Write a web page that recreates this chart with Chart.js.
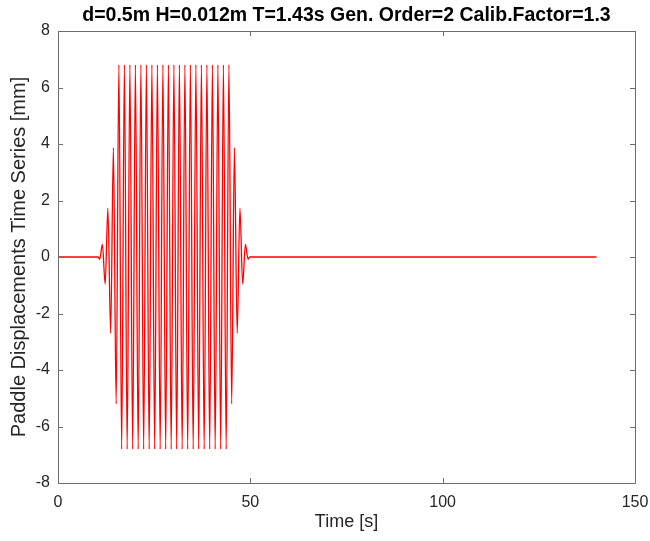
<!DOCTYPE html>
<html>
<head>
<meta charset="utf-8">
<script src="https://cdn.jsdelivr.net/npm/chart.js@4.4.0/dist/chart.umd.min.js"></script>
<style>
  html, body { margin: 0; padding: 0; background: #ffffff; }
  #wrap { width: 650px; height: 541px; }
</style>
</head>
<body>
<div id="wrap"><canvas id="c" width="650" height="541"></canvas></div>
<script>
// ---- Data ----
const chartTitle = 'd=0.5m H=0.012m T=1.43s Gen. Order=2 Calib.Factor=1.3';
const xTitle = 'Time [s]';
const yTitle = 'Paddle Displacements Time Series [mm]';

// time [s] of the plotted samples (flat start, wave extrema, flat end)
const timeS = [
  0, 10.40, 10.85,
  11.54, 12.26, 12.97, 13.69, 14.40, 15.12,
  15.83, 16.55, 17.26, 17.98, 18.69, 19.41, 20.12, 20.84, 21.55, 22.27,
  22.98, 23.70, 24.41, 25.13, 25.84, 26.56, 27.27, 27.99, 28.70, 29.42,
  30.13, 30.85, 31.56, 32.28, 32.99, 33.71, 34.42, 35.14, 35.85, 36.57,
  37.28, 38.00, 38.71, 39.43, 40.14, 40.86, 41.57, 42.29, 43.00, 43.72,
  44.43,
  45.15, 45.86, 46.58, 47.29, 48.01, 48.72,
  49.40, 49.85, 140
];
// paddle displacement [mm] at those times
const displacementMM = [
  0, 0, -0.08,
  0.45, -0.96, 1.73, -2.70, 3.87, -5.20,
  6.8, -6.8, 6.8, -6.8, 6.8, -6.8, 6.8, -6.8, 6.8, -6.8,
  6.8, -6.8, 6.8, -6.8, 6.8, -6.8, 6.8, -6.8, 6.8, -6.8,
  6.8, -6.8, 6.8, -6.8, 6.8, -6.8, 6.8, -6.8, 6.8, -6.8,
  6.8, -6.8, 6.8, -6.8, 6.8, -6.8, 6.8, -6.8, 6.8, -6.8,
  6.8,
  -5.20, 3.87, -2.70, 1.73, -0.96, 0.45,
  -0.08, 0, 0
];
const xTicks = [0, 50, 100, 150];
const yTicks = [-8, -6, -4, -2, 0, 2, 4, 6, 8];

const points = timeS.map((t, i) => ({ x: t, y: displacementMM[i] }));

const AXIS_COLOR = '#6e6e6e';
const TEXT_COLOR = '#262626';
const FONT = "'Liberation Sans', Arial, Helvetica, sans-serif";

// Box, inward ticks and centred title (MATLAB style)
const matlabFrame = {
  id: 'matlabFrame',
  afterDraw(chart) {
    const { ctx, chartArea: a, scales: { x, y } } = chart;
    ctx.save();
    ctx.strokeStyle = AXIS_COLOR;
    ctx.lineWidth = 1;
    ctx.beginPath();
    ctx.rect(Math.round(a.left) + 0.5, Math.round(a.top) + 0.5,
             Math.round(a.right - a.left), Math.round(a.bottom - a.top));
    ctx.stroke();
    const L = 5;
    ctx.beginPath();
    xTicks.forEach(v => {
      const px = Math.round(x.getPixelForValue(v)) + 0.5;
      ctx.moveTo(px, a.bottom); ctx.lineTo(px, a.bottom - L);
      ctx.moveTo(px, a.top); ctx.lineTo(px, a.top + L);
    });
    yTicks.forEach(v => {
      const py = Math.round(y.getPixelForValue(v)) + 0.5;
      ctx.moveTo(a.left, py); ctx.lineTo(a.left + L, py);
      ctx.moveTo(a.right, py); ctx.lineTo(a.right - L, py);
    });
    ctx.stroke();
    ctx.fillStyle = '#000000';
    ctx.font = "bold 19.5px " + FONT;
    ctx.textAlign = 'center';
    ctx.textBaseline = 'middle';
    ctx.fillText(chartTitle, (a.left + a.right) / 2, 16);
    ctx.restore();
  }
};

new Chart(document.getElementById('c'), {
  type: 'line',
  data: {
    datasets: [{
      data: points,
      borderColor: '#ff0000',
      borderWidth: 1.3,
      pointRadius: 0,
      fill: false,
      cubicInterpolationMode: 'monotone'
    }]
  },
  options: {
    responsive: false,
    animation: false,
    layout: { padding: { top: 31, right: 15, left: 0, bottom: 0 } },
    plugins: { legend: { display: false }, title: { display: false }, tooltip: { enabled: false } },
    scales: {
      x: {
        type: 'linear',
        min: 0, max: 150,
        afterBuildTicks(s) { s.ticks = xTicks.map(v => ({ value: v })); },
        afterFit(s) { s.height = 58; s.paddingLeft = 0; s.paddingRight = 0; },
        grid: { display: false, drawTicks: false },
        border: { display: false },
        ticks: { color: TEXT_COLOR, font: { family: FONT, size: 16 }, padding: 10, maxRotation: 0 },
        title: { display: true, text: xTitle, color: TEXT_COLOR, font: { family: FONT, size: 18 }, padding: { top: 0, bottom: 8 } }
      },
      y: {
        type: 'linear',
        min: -8, max: 8,
        afterBuildTicks(s) { s.ticks = yTicks.map(v => ({ value: v })); },
        afterFit(s) { s.width = 58; s.paddingTop = 0; s.paddingBottom = 0; },
        grid: { display: false, drawTicks: false },
        border: { display: false },
        ticks: { color: TEXT_COLOR, font: { family: FONT, size: 16 }, padding: 8 },
        title: { display: true, text: yTitle, color: TEXT_COLOR, font: { family: FONT, size: 20 }, padding: { top: 7, bottom: 0 } }
      }
    }
  },
  plugins: [matlabFrame]
});
</script>
</body>
</html>
